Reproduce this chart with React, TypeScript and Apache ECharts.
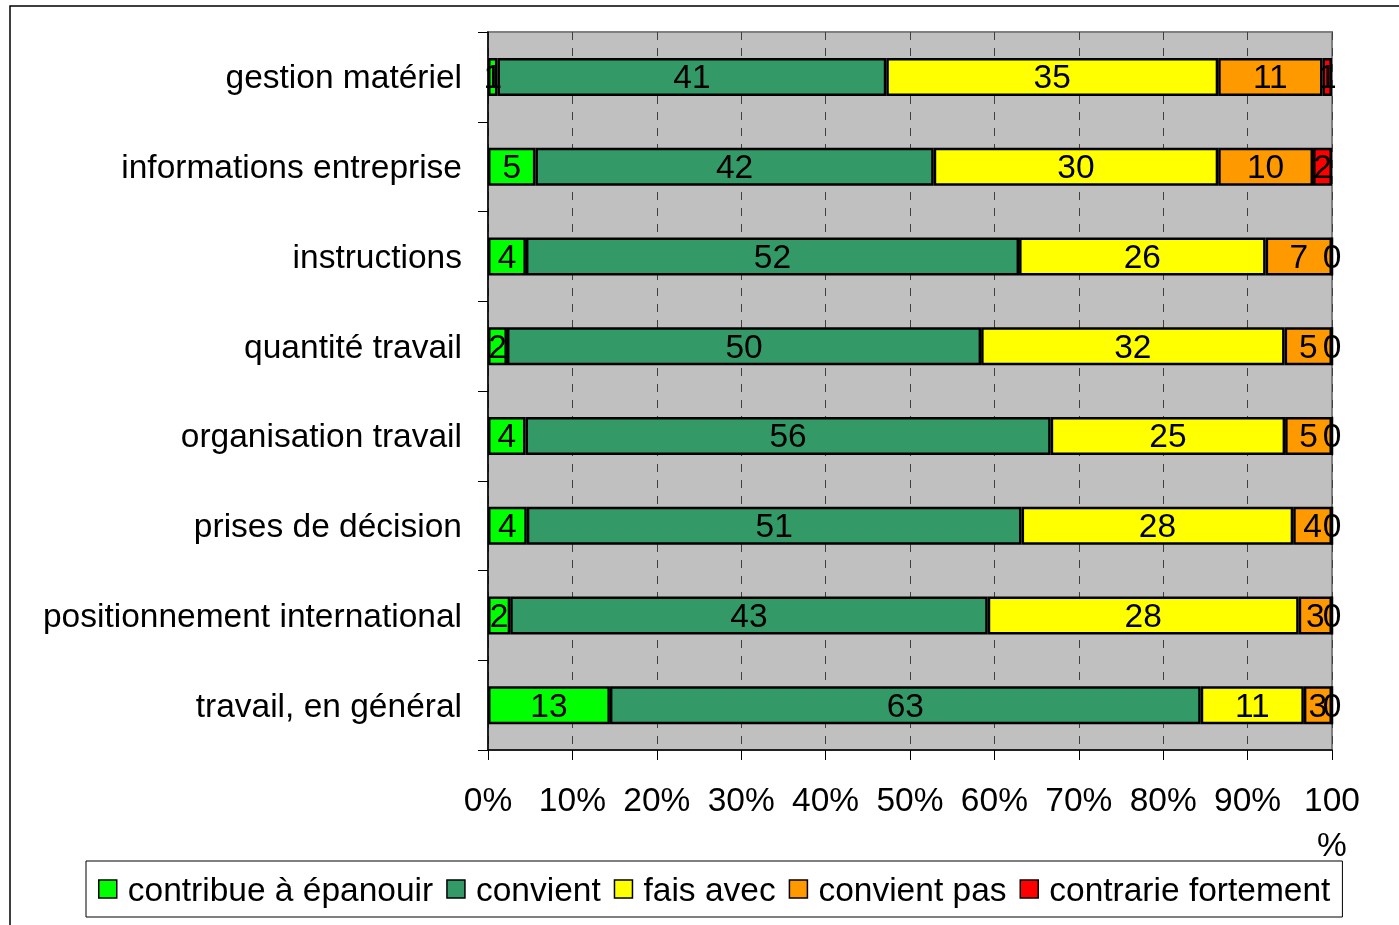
import React, { useEffect, useRef } from "react";
import * as echarts from "echarts";

const categories = [
  "gestion matériel",
  "informations entreprise",
  "instructions",
  "quantité travail",
  "organisation travail",
  "prises de décision",
  "positionnement international",
  "travail, en général",
];

const seriesNames = [
  "contribue à épanouir",
  "convient",
  "fais avec",
  "convient pas",
  "contrarie fortement",
];

const contribue = [1, 5, 4, 2, 4, 4, 2, 13];
const convient = [41, 42, 52, 50, 56, 51, 43, 63];
const faisAvec = [35, 30, 26, 32, 25, 28, 28, 11];
const convientPas = [11, 10, 7, 5, 5, 4, 3, 3];
const contrarie = [1, 2, 0, 0, 0, 0, 0, 0];

const colors = ["#00FF00", "#339966", "#FFFF00", "#FF9900", "#FF0000"];

const xTicks = [0, 10, 20, 30, 40, 50, 60, 70, 80, 90, 100];

const FONT = "'Liberation Sans', Arial, sans-serif";
const FS = 33.5;

export default function App() {
  const ref = useRef<HTMLDivElement>(null);

  useEffect(() => {
    if (!ref.current) return;
    const chart = echarts.init(ref.current, undefined, { renderer: "svg" });
    const raw = [contribue, convient, faisAvec, convientPas, contrarie];
    const totals = categories.map((_, i) =>
      raw.reduce((s, arr) => s + arr[i], 0)
    );

    const series = raw.map((arr, si) => ({
      name: seriesNames[si],
      type: "bar",
      stack: "total",
      barWidth: 38,
      clip: false,
      data: arr.map((v, i) => ({ value: (v / totals[i]) * 100, raw: v })),
      itemStyle: { color: colors[si], borderColor: "#000", borderWidth: 2.5 },
      labelLayout: { hideOverlap: false },
      label: {
        show: true,
        position: "inside",
        color: "#000",
        fontSize: FS,
        fontFamily: FONT,
        formatter: (p: any) => String(p.data.raw),
      },
      emphasis: { disabled: true },
    }));

    chart.setOption({
      animation: false,
      textStyle: { fontFamily: FONT },
      graphic: [
        {
          type: "rect",
          shape: { x: 10, y: 6, width: 1400, height: 930 },
          style: { fill: "none", stroke: "#000", lineWidth: 1.5 },
          silent: true,
        },
      ],
      grid: {
        left: 488,
        right: 67,
        top: 32,
        bottom: 175,
        show: true,
        backgroundColor: "#C0C0C0",
        borderColor: "#808080",
        borderWidth: 2,
      },
      legend: {
        left: 86,
        top: 861,
        padding: [11, 12, 11, 12],
        borderColor: "#000",
        borderWidth: 1,
        itemWidth: 18,
        itemHeight: 18,
        itemGap: 13,
        icon: "rect",
        itemStyle: { borderColor: "#000", borderWidth: 1.5 },
        textStyle: {
          fontSize: FS,
          color: "#000",
          fontFamily: FONT,
          padding: [0, 0, 0, 6],
        },
        data: seriesNames,
      },
      xAxis: {
        type: "value",
        min: 0,
        max: 100,
        interval: 10,
        axisLine: { show: true, lineStyle: { color: "#000", width: 1.5 } },
        axisTick: { show: true, length: 10, lineStyle: { color: "#000" } },
        axisLabel: {
          fontSize: FS,
          color: "#000",
          fontFamily: FONT,
          margin: 27,
          lineHeight: 45,
          formatter: (v: number) => (v === 100 ? "100\n%" : `${v}%`),
          customValues: xTicks,
        },
        splitLine: {
          show: true,
          lineStyle: { color: "#404040", type: [8, 8], width: 1 },
        },
      },
      yAxis: {
        type: "category",
        inverse: true,
        data: categories,
        axisLine: { show: true, lineStyle: { color: "#000", width: 1.5 } },
        axisTick: { show: true, length: 10, lineStyle: { color: "#000" } },
        axisLabel: {
          fontSize: FS,
          color: "#000",
          fontFamily: FONT,
          margin: 26,
        },
      },
      series,
    });

    return () => chart.dispose();
  }, []);

  return (
    <div
      ref={ref}
      style={{ position: "fixed", left: 0, top: 0, width: 1399, height: 925 }}
    />
  );
}
